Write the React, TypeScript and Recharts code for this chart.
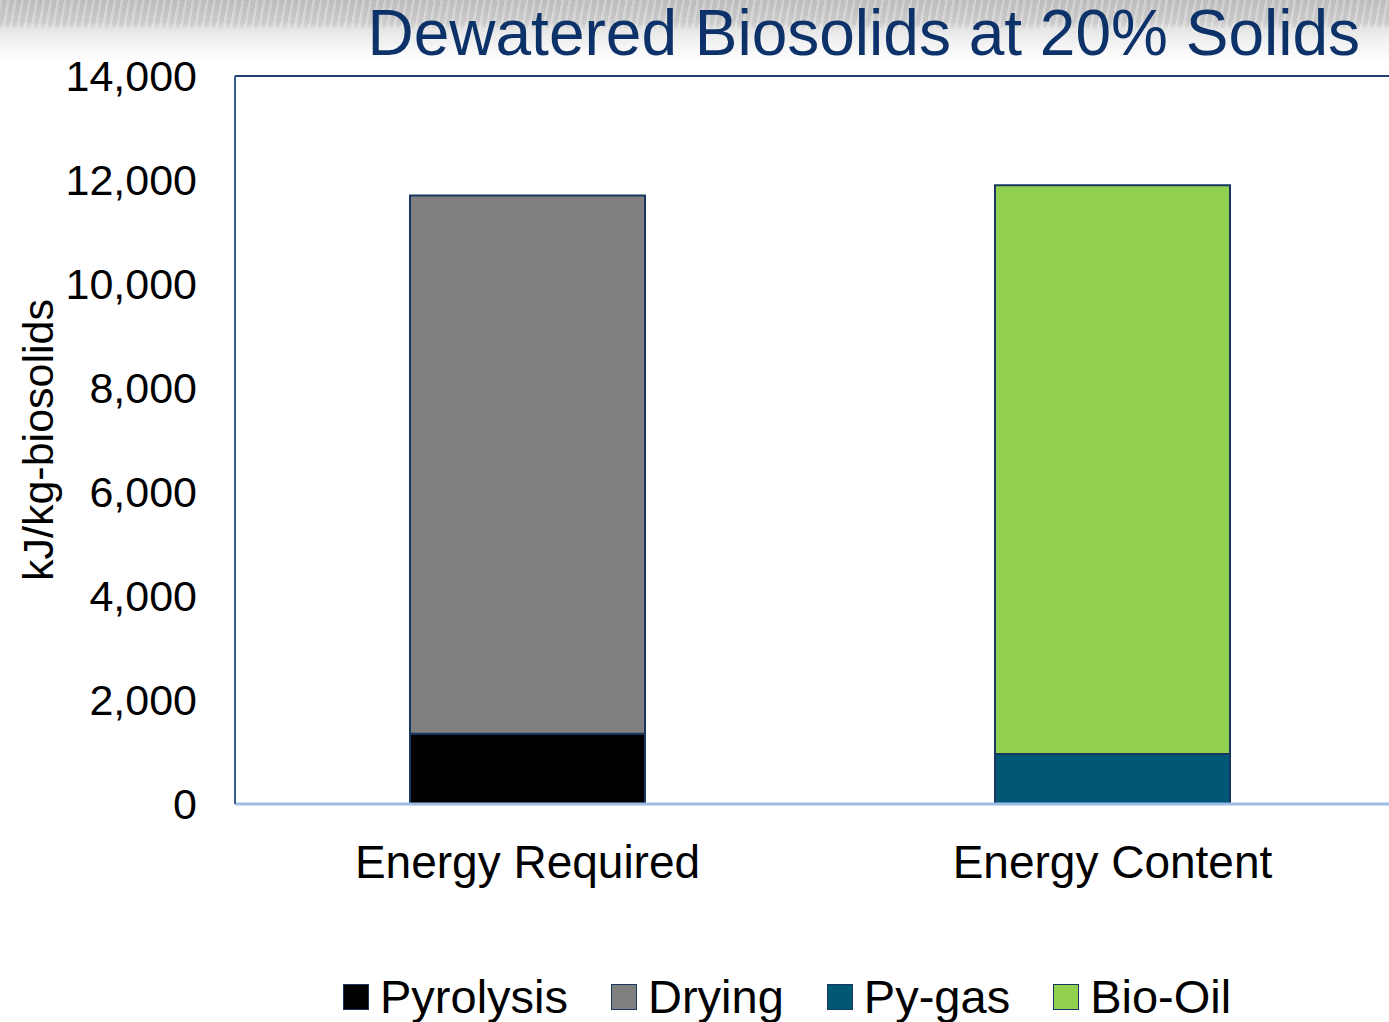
import React from 'react';
import { BarChart, Bar, XAxis, YAxis, Legend, ReferenceLine } from 'recharts';

const categories = ['Energy Required', 'Energy Content'];
const pyrolysis = [1350, null];
const drying = [10350, null];
const pyGas = [null, 960];
const bioOil = [null, 10940];
const yTicks = [0, 2000, 4000, 6000, 8000, 10000, 12000, 14000];

const seriesNames = ['Pyrolysis', 'Drying', 'Py-gas', 'Bio-Oil'];
const seriesKeys = ['pyrolysis', 'drying', 'pyGas', 'bioOil'];
const seriesColors = ['#000000', '#808080', '#005876', '#92d050'];

const data = categories.map((c, i) => ({
  name: c,
  pyrolysis: pyrolysis[i],
  drying: drying[i],
  pyGas: pyGas[i],
  bioOil: bioOil[i],
}));

const FONT = '"Liberation Sans", Arial, sans-serif';
const BAR_STROKE = '#17375e';

const YLabel = () => (
  <text
    x={38}
    y={440}
    transform="rotate(-90 38 440)"
    textAnchor="middle"
    dominantBaseline="central"
    fontFamily={FONT}
    fontSize={43}
    fill="#000"
  >
    kJ/kg-biosolids
  </text>
);

const CustomLegend = () => (
  <div
    style={{
      height: 50,
      display: 'flex',
      alignItems: 'center',
      paddingLeft: 343,
      fontFamily: FONT,
      fontSize: 47,
      lineHeight: '50px',
      color: '#000',
      whiteSpace: 'nowrap',
    }}
  >
    {seriesNames.map((n, i) => (
      <div key={n} style={{ display: 'flex', alignItems: 'center', marginRight: 43 }}>
        <div
          style={{
            width: 24,
            height: 24,
            background: seriesColors[i],
            border: `1px solid ${BAR_STROKE}`,
            marginRight: 11,
          }}
        />
        <span>{n}</span>
      </div>
    ))}
  </div>
);

export default function App() {
  return (
    <div
      style={{
        position: 'absolute',
        left: 0,
        top: 0,
        width: 1389,
        height: 1022,
        overflow: 'hidden',
        background:
          'linear-gradient(to bottom, #c4c4c4 0px, #d2d2d2 22px, #e4e4e4 28px, #eeeeee 38px, #f7f7f7 50px, #ffffff 62px)',
      }}
    >
      <div
        style={{
          position: 'absolute',
          left: 0,
          top: 0,
          width: 1389,
          height: 28,
          background:
            'repeating-linear-gradient(100deg, rgba(255,255,255,0.18) 0px, rgba(255,255,255,0.18) 2px, rgba(0,0,0,0.04) 3px, rgba(0,0,0,0.04) 7px)',
        }}
      />
      <svg
        width={1389}
        height={76}
        style={{ position: 'absolute', left: 0, top: 0 }}
      >
        <text
          x={1360}
          y={55}
          textAnchor="end"
          fontFamily={FONT}
          fontSize={64}
          fill="#0d3269"
        >
          Dewatered Biosolids at 20% Solids
        </text>
      </svg>
      <div style={{ position: 'absolute', left: 0, top: 0 }}>
        <BarChart
          width={1420}
          height={1022}
          data={data}
          margin={{ top: 76, right: 15, left: 0, bottom: 0 }}
          barSize={235}
        >
          <XAxis
            dataKey="name"
            height={168}
            tickSize={0}
            tickMargin={41}
            tickLine={false}
            axisLine={{ stroke: '#9dbde6', strokeWidth: 3 }}
            tick={{ fontFamily: FONT, fontSize: 46, fill: '#000' }}
          />
          <YAxis
            width={235}
            domain={[0, 14000]}
            ticks={yTicks}
            interval={0}
            tickSize={0}
            tickMargin={38}
            tickLine={false}
            axisLine={{ stroke: '#3a5f95', strokeWidth: 2 }}
            tick={{ fontFamily: FONT, fontSize: 43, fill: '#000' }}
            tickFormatter={(v: number) => v.toLocaleString('en-US')}
            label={<YLabel />}
          />
          <ReferenceLine y={14000} stroke="#1f3f73" strokeWidth={2} />
          {seriesKeys.map((k, i) => (
            <Bar
              key={k}
              dataKey={k}
              name={seriesNames[i]}
              stackId="a"
              fill={seriesColors[i]}
              stroke={BAR_STROKE}
              strokeWidth={2}
              isAnimationActive={false}
            />
          ))}
          <Legend verticalAlign="bottom" content={<CustomLegend />} />
        </BarChart>
      </div>
    </div>
  );
}
